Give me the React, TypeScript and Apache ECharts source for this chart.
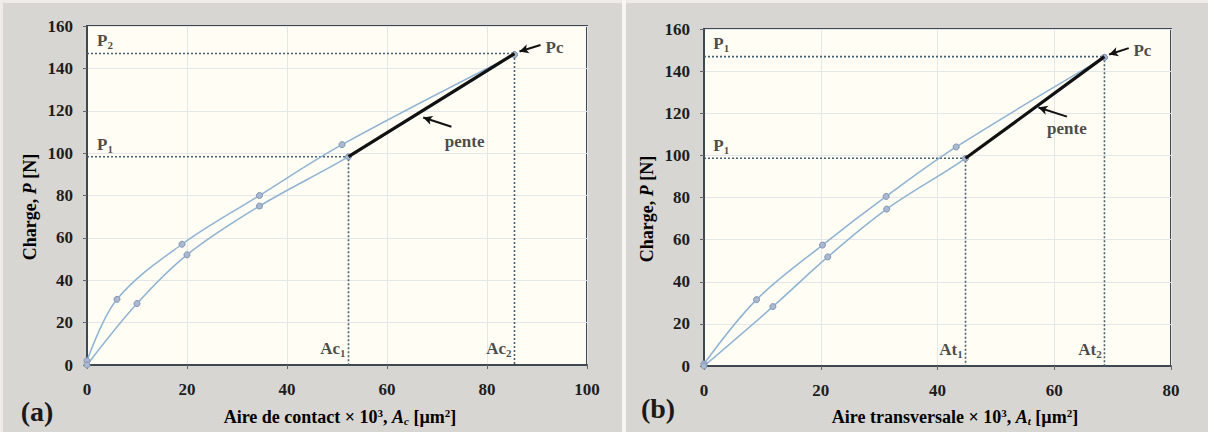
import React, { useEffect, useRef } from "react";
import * as echarts from "echarts";

// ---------- data ----------
// (a) contact area (x 10^3 µm²) vs load (N)
const aUpperX = [0, 6, 19, 34.5, 51, 85.5];
const aUpperY = [2, 31, 57, 80, 104, 146.5];
const aLowerX = [0, 10, 20, 34.5, 52.3, 85.5];
const aLowerY = [0, 29, 52, 75, 98.3, 146.5];
const aP1 = 98.3;
const aP2 = 147;
const aAc1 = 52.3;
const aAc2 = 85.5;

// (b) transverse area (x 10^3 µm²) vs load (N)
const bUpperX = [0, 9, 20.3, 31.2, 43.2, 68.6];
const bUpperY = [1, 31.5, 57.4, 80.5, 104, 146.5];
const bLowerX = [0, 11.8, 21.2, 31.3, 44.8, 68.6];
const bLowerY = [0, 28.2, 51.8, 74.5, 98.6, 146.5];
const bP1 = 98.6;
const bP2 = 146.9;
const bAt1 = 44.8;
const bAt2 = 68.6;

const xTicksA = [0, 20, 40, 60, 80, 100];
const xTicksB = [0, 20, 40, 60, 80];
const yTicks = [0, 20, 40, 60, 80, 100, 120, 140, 160];

const SERIF = "'Liberation Serif', 'DejaVu Serif', serif";
const FRAME = "#3d4850";
const CURVE = "#8fb3d3";
const GUIDE = "#45606f";
const INK = "#1a1a1a";

const zip = (xs: number[], ys: number[]) => xs.map((x, i) => [x, ys[i]]);

const rich = {
  m: { fontSize: 17, fontWeight: "bold", fontFamily: SERIF, color: INK },
  s: { fontSize: 11, fontWeight: "bold", fontFamily: SERIF, color: INK, padding: [9, 0, 0, 0] },
};

function panel(idx: number, cfg: any) {
  const { upper, lower, p1, p2, a1, a2, pTop, aName, xSpan, lab, arrS, arrE } = cfg;
  const common = { xAxisIndex: idx, yAxisIndex: idx };
  const lbl = (x: number, y: number, text: string, align: string) => ({
    value: [x, y],
    label: { show: true, formatter: text, align, verticalAlign: "middle", position: "inside", rich },
  });
  const k = xSpan / 100;
  const onSlope = (fx: number, fy: number) => [a1 + (a2 - a1) * fx, p1 + (p2 - p1) * fy];
  return [
    {
      ...common,
      type: "line",
      data: [[0, p2], [a2, p2], [a2, 0]],
      symbol: "none",
      lineStyle: { color: GUIDE, width: 1.6, type: [2, 2] },
      z: 2,
    },
    {
      ...common,
      type: "line",
      data: [[0, p1], [a1, p1], [a1, 0]],
      symbol: "none",
      lineStyle: { color: GUIDE, width: 1.6, type: [2, 2] },
      z: 2,
    },
    {
      ...common,
      type: "line",
      data: upper,
      smooth: 0.35,
      symbol: "circle",
      symbolSize: 6,
      lineStyle: { color: CURVE, width: 1.5 },
      itemStyle: { color: "#aab9d1", borderColor: "#8094b2", borderWidth: 1 },
      z: 3,
    },
    {
      ...common,
      type: "line",
      data: lower,
      smooth: 0.35,
      symbol: "circle",
      symbolSize: 6,
      lineStyle: { color: CURVE, width: 1.5 },
      itemStyle: { color: "#aab9d1", borderColor: "#8094b2", borderWidth: 1 },
      z: 3,
    },
    {
      ...common,
      type: "line",
      data: [[a1, p1], [a2, p2]],
      symbol: "none",
      lineStyle: { color: "#111", width: 3.2 },
      z: 4,
      markLine: {
        silent: true,
        symbol: ["none", "arrow"],
        symbolSize: [7, 9],
        lineStyle: { color: "#111", width: 2, type: "solid" },
        label: { show: false },
        data: [
          [{ coord: onSlope(arrS[0], arrS[1]) }, { coord: onSlope(arrE[0], arrE[1]) }],
          [{ coord: [a2 + 5.2 * k, p2 + 4] }, { coord: [a2 + 1 * k, p2 + 1] }],
        ],
      },
    },
    {
      ...common,
      type: "scatter",
      symbolSize: 0,
      z: 5,
      data: [
        lbl(2 * k, p2 + 6, pTop, "left"),
        lbl(2 * k, p1 + 6, "{m|P}{s|1}", "left"),
        lbl(a1 - 0.6 * k, 8, `{m|${aName}}{s|1}`, "right"),
        lbl(a2 - 0.6 * k, 8, `{m|${aName}}{s|2}`, "right"),
        lbl(a2 + 6.2 * k, p2 + 3, "{m|Pc}", "left"),
        lbl(onSlope(lab[0], lab[1])[0], onSlope(lab[0], lab[1])[1], "{m|pente}", "center"),
      ],
    },
  ];
}

const axisLabel = { color: "#1d1d1d", fontSize: 17, fontWeight: "bold", fontFamily: SERIF };

function xAxis(idx: number, max: number) {
  return {
    type: "value",
    gridIndex: idx,
    min: 0,
    max,
    interval: 20,
    axisLine: { show: true, onZero: false, lineStyle: { color: FRAME, width: 2 } },
    axisTick: { show: true, length: 4, lineStyle: { color: "#666" } },
    axisLabel: { ...axisLabel, margin: 16 },
    splitLine: { show: true, lineStyle: { color: "#e3e7ea", width: 1 } },
  };
}
function yAxis(idx: number) {
  return {
    type: "value",
    gridIndex: idx,
    min: yTicks[0],
    max: yTicks[yTicks.length - 1],
    interval: 20,
    axisLine: { show: true, onZero: false, lineStyle: { color: FRAME, width: 2 } },
    axisTick: { show: true, length: 4, lineStyle: { color: "#666" } },
    axisLabel: { ...axisLabel, margin: 14 },
    splitLine: { show: true, lineStyle: { color: "#e3e7ea", width: 1 } },
  };
}

const titleRich = {
  b: { fontSize: 18, fontWeight: "bold", fontFamily: SERIF, color: INK },
  i: { fontSize: 18, fontWeight: "bold", fontStyle: "italic", fontFamily: SERIF, color: INK },
  sup: { fontSize: 11, fontWeight: "bold", fontFamily: SERIF, color: INK, padding: [0, 0, 8, 0] },
  sub: { fontSize: 11, fontWeight: "bold", fontStyle: "italic", fontFamily: SERIF, color: INK, padding: [8, 0, 0, 0] },
};

function text(x: number, y: number, t: string, extra: any = {}) {
  return {
    type: "text",
    x,
    y,
    ...extra,
    style: { text: t, rich: titleRich, align: "center", verticalAlign: "middle", ...(extra.style || {}) },
  };
}

export default function App() {
  const ref = useRef<HTMLDivElement>(null);
  useEffect(() => {
    if (!ref.current) return;
    const chart = echarts.init(ref.current, undefined, { renderer: "svg" });
    const option: any = {
      animation: false,
      backgroundColor: "#d8d6d2",
      grid: [
        { left: 87, top: 26, width: 500, height: 339, show: true, backgroundColor: "#fffdf4", borderColor: FRAME, borderWidth: 2 },
        { left: 704, top: 29, width: 467, height: 337, show: true, backgroundColor: "#fffdf4", borderColor: FRAME, borderWidth: 2 },
      ],
      xAxis: [xAxis(0, xTicksA[xTicksA.length - 1]), xAxis(1, xTicksB[xTicksB.length - 1])],
      yAxis: [yAxis(0), yAxis(1)],
      series: [
        ...panel(0, {
          upper: zip(aUpperX, aUpperY),
          lower: zip(aLowerX, aLowerY),
          p1: aP1,
          p2: aP2,
          a1: aAc1,
          a2: aAc2,
          pTop: "{m|P}{s|2}",
          aName: "Ac",
          xSpan: 100,
          lab: [0.7, 0.15],
          arrS: [0.62, 0.29],
          arrE: [0.45, 0.38],
        }),
        ...panel(1, {
          upper: zip(bUpperX, bUpperY),
          lower: zip(bLowerX, bLowerY),
          p1: bP1,
          p2: bP2,
          a1: bAt1,
          a2: bAt2,
          pTop: "{m|P}{s|1}",
          aName: "At",
          xSpan: 80,
          lab: [0.73, 0.29],
          arrS: [0.73, 0.41],
          arrE: [0.525, 0.5],
        }),
      ],
      graphic: [
        { type: "rect", shape: { x: 0, y: 0, width: 1208, height: 3 }, style: { fill: "#efece7" }, z: -1 },
        { type: "rect", shape: { x: 0, y: 0, width: 3, height: 432 }, style: { fill: "#efece7" }, z: -1 },
        { type: "rect", shape: { x: 622, y: 0, width: 4, height: 432 }, style: { fill: "#f8f6f1" }, z: -1 },
        text(30, 207, "{b|Charge, }{i|P}{b| [N]}", { rotation: Math.PI / 2 }),
        text(647, 209, "{b|Charge, }{i|P}{b| [N]}", { rotation: Math.PI / 2 }),
        text(340, 417, "{b|Aire de contact × 10}{sup|3}{b|, }{i|A}{sub|c}{b| [µm}{sup|2}{b|]}"),
        text(955, 417, "{b|Aire transversale × 10}{sup|3}{b|, }{i|A}{sub|t}{b| [µm}{sup|2}{b|]}"),
        text(37, 411, "(a)", { style: { font: `bold 28px ${SERIF}`, fill: INK, rich: undefined } }),
        text(658, 408, "(b)", { style: { font: `bold 28px ${SERIF}`, fill: INK, rich: undefined } }),
      ],
    };
    chart.setOption(option);
    return () => chart.dispose();
  }, []);
  return <div ref={ref} style={{ position: "fixed", left: 0, top: 0, width: 1208, height: 432 }} />;
}
